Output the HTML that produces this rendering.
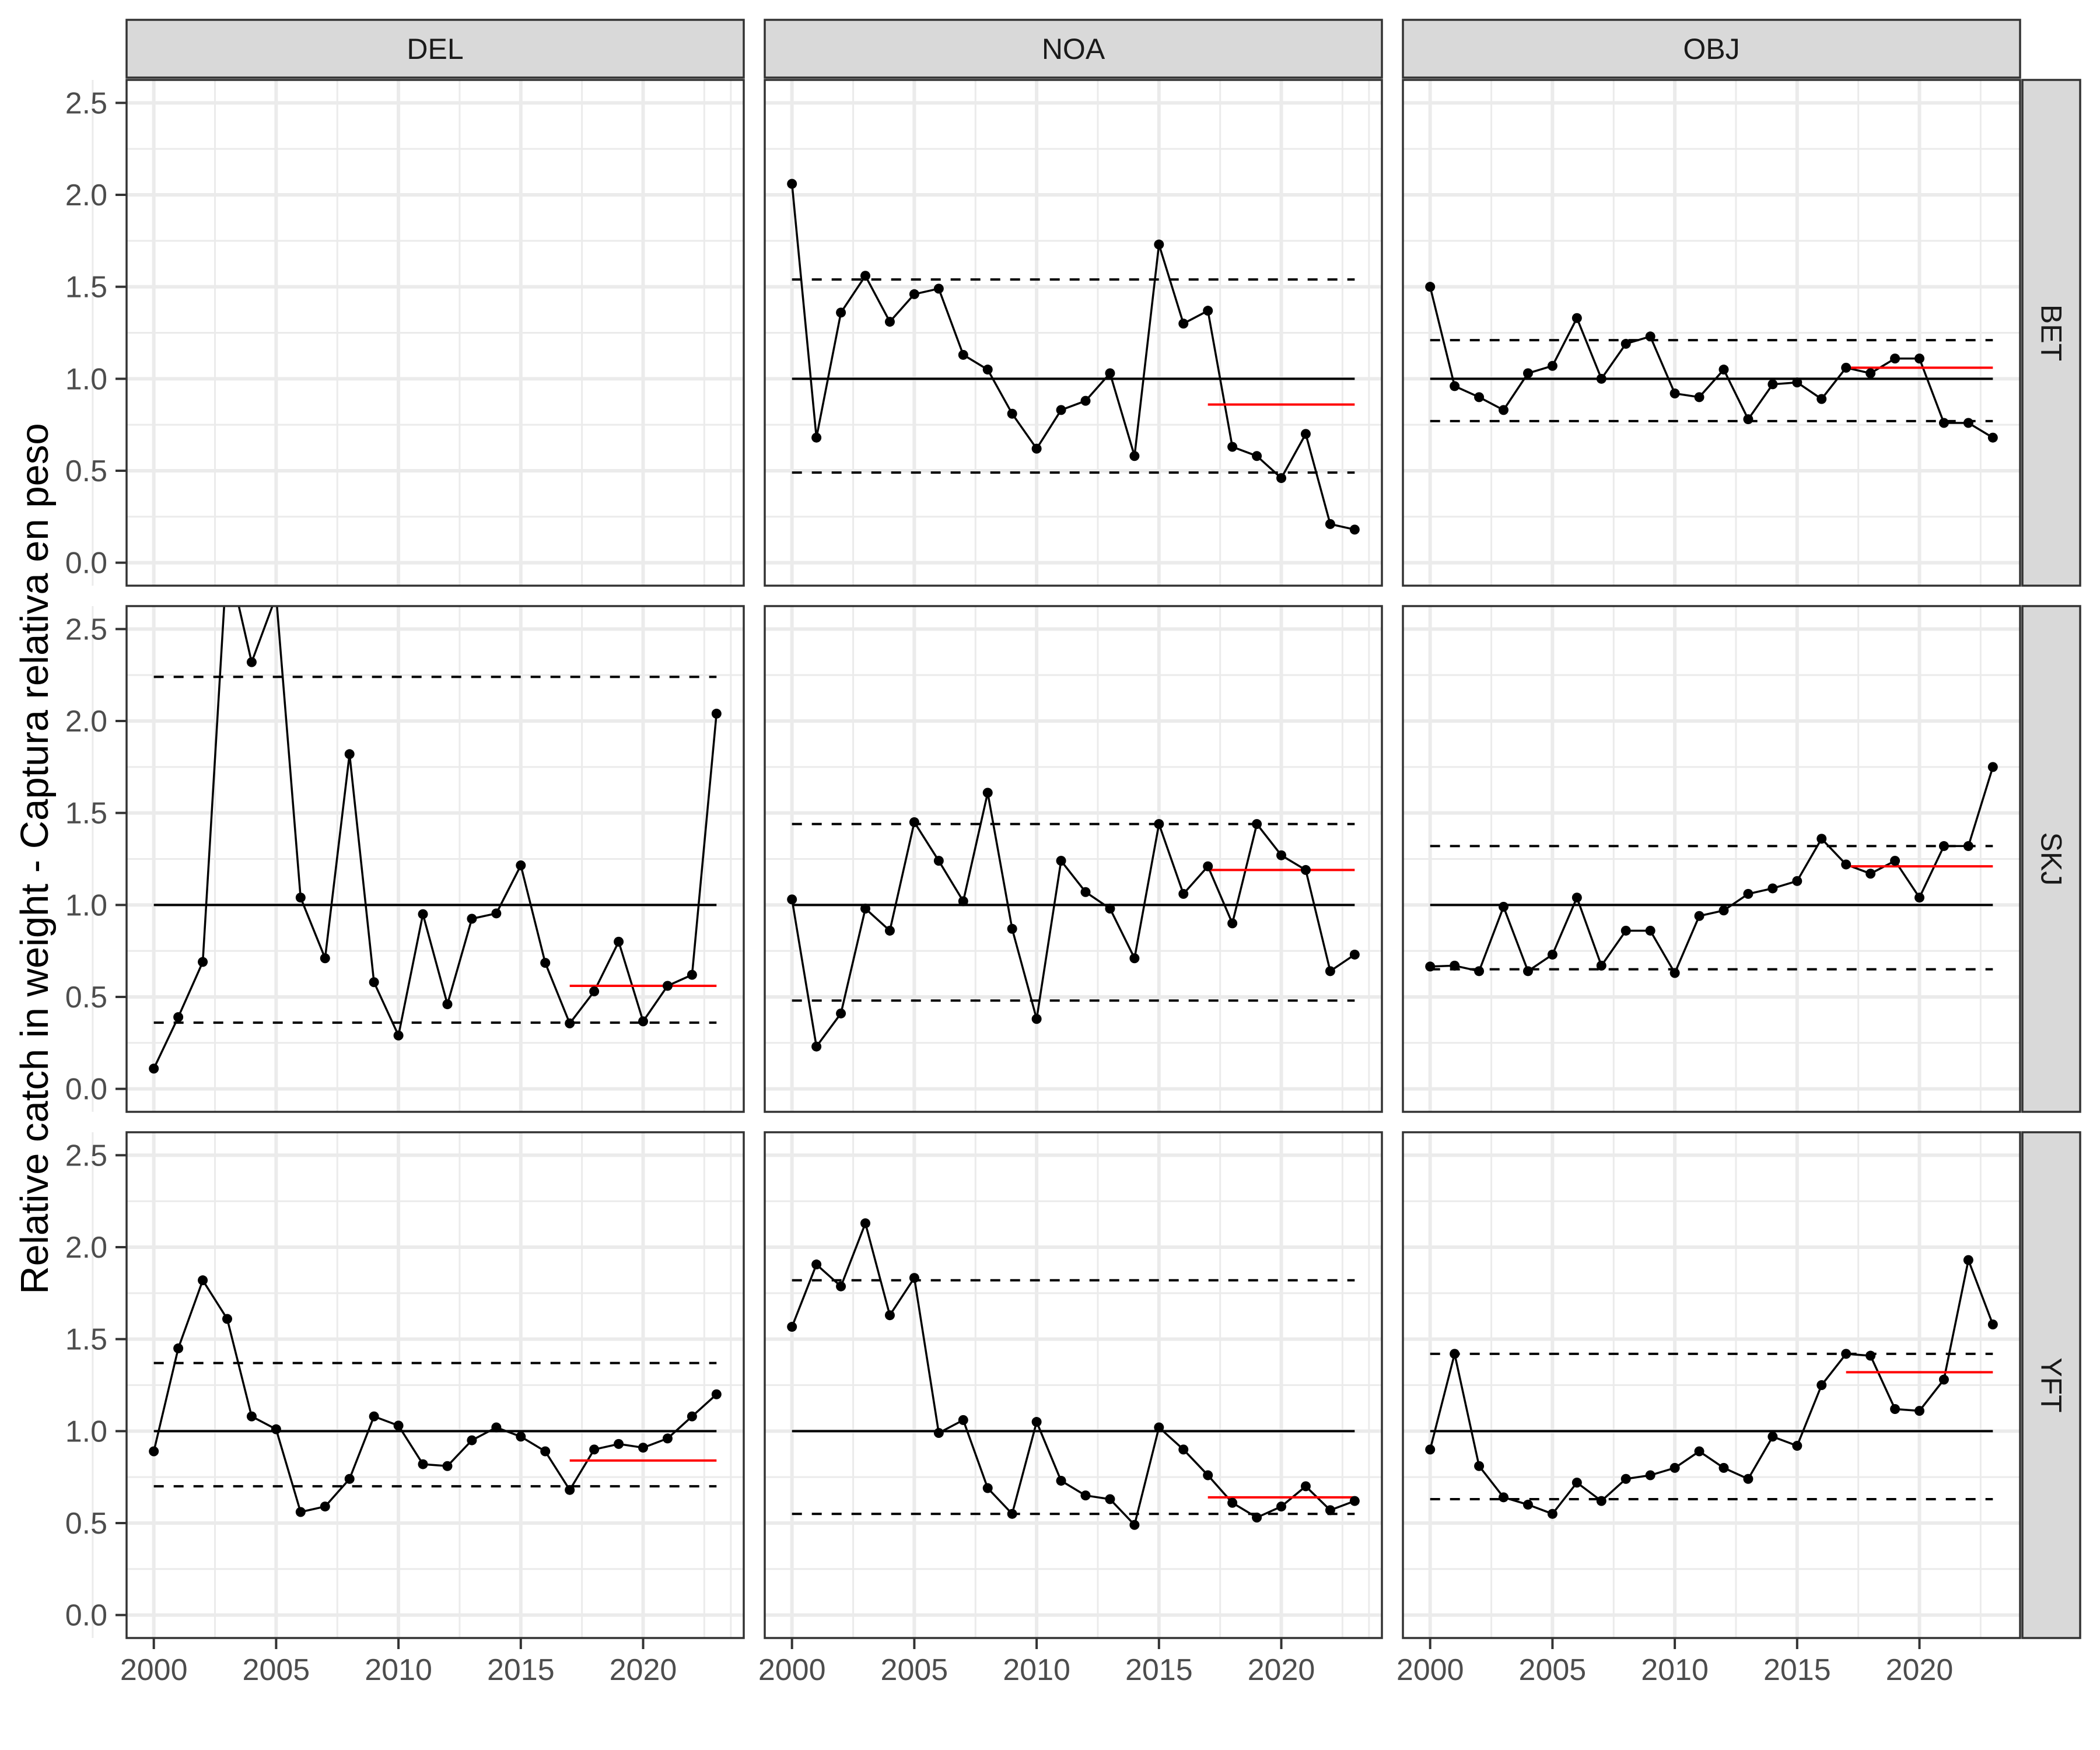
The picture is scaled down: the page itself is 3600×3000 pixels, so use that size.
<!DOCTYPE html>
<html><head><meta charset="utf-8">
<style>
html,body{margin:0;padding:0;background:#fff;}
svg{display:block;font-family:"Liberation Sans",Arial,sans-serif;}
</style></head>
<body>
<svg id="chart" width="3600" height="3000" viewBox="0 0 3600 3000" xmlns="http://www.w3.org/2000/svg">
<rect x="0" y="0" width="3600" height="3000" fill="#fff"/>
<text x="0" y="0" transform="translate(82,1472) rotate(-90)" text-anchor="middle" font-size="67" fill="#000">Relative catch in weight - Captura relativa en peso</text>
</svg>
<script>
const years = [2000,2001,2002,2003,2004,2005,2006,2007,2008,2009,2010,2011,2012,2013,2014,2015,2016,2017,2018,2019,2020,2021,2022,2023];
const gears = ["DEL","NOA","OBJ"];
const species = ["BET","SKJ","YFT"];
const yTicks = [0,0.5,1,1.5,2,2.5];
const yTickLabels = ["0.0","0.5","1.0","1.5","2.0","2.5"];
const xTicks = [2000,2005,2010,2015,2020];
const xTickLabels = ["2000","2005","2010","2015","2020"];
const redStartYear = 2017;

const valsNOA_BET = [2.06,0.68,1.36,1.56,1.31,1.46,1.49,1.13,1.05,0.81,0.62,0.83,0.88,1.03,0.58,1.73,1.30,1.37,0.63,0.58,0.46,0.70,0.21,0.18];
const valsOBJ_BET = [1.50,0.96,0.90,0.83,1.03,1.07,1.33,1.00,1.19,1.23,0.92,0.90,1.05,0.78,0.97,0.98,0.89,1.06,1.03,1.11,1.11,0.76,0.76,0.68];
const valsDEL_SKJ = [0.11,0.39,0.69,2.90,2.32,2.68,1.04,0.71,1.82,0.58,0.29,0.95,0.46,0.925,0.954,1.215,0.685,0.356,0.53,0.80,0.367,0.56,0.62,2.04];
const valsNOA_SKJ = [1.03,0.23,0.41,0.98,0.86,1.45,1.24,1.02,1.61,0.87,0.38,1.24,1.07,0.98,0.71,1.44,1.06,1.21,0.90,1.44,1.27,1.19,0.64,0.73];
const valsOBJ_SKJ = [0.665,0.67,0.64,0.99,0.64,0.73,1.04,0.67,0.86,0.86,0.63,0.94,0.97,1.06,1.09,1.13,1.36,1.22,1.17,1.24,1.04,1.32,1.32,1.75];
const valsDEL_YFT = [0.89,1.45,1.82,1.61,1.08,1.01,0.56,0.59,0.74,1.08,1.03,0.82,0.81,0.95,1.02,0.97,0.89,0.68,0.90,0.93,0.91,0.96,1.08,1.20];
const valsNOA_YFT = [1.567,1.906,1.787,2.13,1.63,1.833,0.99,1.06,0.69,0.55,1.05,0.73,0.65,0.63,0.49,1.02,0.90,0.76,0.61,0.53,0.59,0.70,0.57,0.62];
const valsOBJ_YFT = [0.90,1.42,0.81,0.64,0.60,0.55,0.72,0.62,0.74,0.76,0.80,0.89,0.80,0.74,0.97,0.92,1.25,1.42,1.41,1.12,1.11,1.28,1.93,1.58];

const upperNOA_BET = 1.54, lowerNOA_BET = 0.49, redNOA_BET = 0.86;
const upperOBJ_BET = 1.21, lowerOBJ_BET = 0.77, redOBJ_BET = 1.06;
const upperDEL_SKJ = 2.24, lowerDEL_SKJ = 0.36, redDEL_SKJ = 0.56;
const upperNOA_SKJ = 1.44, lowerNOA_SKJ = 0.48, redNOA_SKJ = 1.19;
const upperOBJ_SKJ = 1.32, lowerOBJ_SKJ = 0.65, redOBJ_SKJ = 1.21;
const upperDEL_YFT = 1.37, lowerDEL_YFT = 0.70, redDEL_YFT = 0.84;
const upperNOA_YFT = 1.82, lowerNOA_YFT = 0.55, redNOA_YFT = 0.64;
const upperOBJ_YFT = 1.42, lowerOBJ_YFT = 0.63, redOBJ_YFT = 1.32;

const panels = [
 {g:1,s:0,v:valsNOA_BET,u:upperNOA_BET,l:lowerNOA_BET,r:redNOA_BET},
 {g:2,s:0,v:valsOBJ_BET,u:upperOBJ_BET,l:lowerOBJ_BET,r:redOBJ_BET},
 {g:0,s:1,v:valsDEL_SKJ,u:upperDEL_SKJ,l:lowerDEL_SKJ,r:redDEL_SKJ},
 {g:1,s:1,v:valsNOA_SKJ,u:upperNOA_SKJ,l:lowerNOA_SKJ,r:redNOA_SKJ},
 {g:2,s:1,v:valsOBJ_SKJ,u:upperOBJ_SKJ,l:lowerOBJ_SKJ,r:redOBJ_SKJ},
 {g:0,s:2,v:valsDEL_YFT,u:upperDEL_YFT,l:lowerDEL_YFT,r:redDEL_YFT},
 {g:1,s:2,v:valsNOA_YFT,u:upperNOA_YFT,l:lowerNOA_YFT,r:redNOA_YFT},
 {g:2,s:2,v:valsOBJ_YFT,u:upperOBJ_YFT,l:lowerOBJ_YFT,r:redOBJ_YFT}
];

const NS = "http://www.w3.org/2000/svg";
const svg = document.getElementById("chart");
const colLeft = [217,1311,2405], PW = 1058;
const rowTop = [137,1039,1941], PH = 867;
const xMin = 2000-1.113, xMax = 2023+1.113, yMin = -0.125, yMax = 2.625;
function sx(c, yr){ return colLeft[c] + (yr - xMin)/(xMax - xMin)*PW; }
function sy(r, v){ return rowTop[r] + PH - (v - yMin)/(yMax - yMin)*PH; }
function el(tag, attrs, parent){
  const e = document.createElementNS(NS, tag);
  for (const k in attrs) e.setAttribute(k, attrs[k]);
  (parent || svg).appendChild(e);
  return e;
}

const defs = el("defs", {});
for (let c=0;c<3;c++) for (let r=0;r<3;r++){
  const cp = el("clipPath", {id:"clip"+c+r}, defs);
  el("rect", {x:colLeft[c], y:rowTop[r], width:PW, height:PH}, cp);
}

for (let r=0;r<3;r++){
  for (let c=0;c<3;c++){
    const g = el("g", {});
    
    
    el("rect", {x:colLeft[c], y:rowTop[r], width:PW, height:PH, fill:"#fff"}, g);
    for (let i=0;i<yTicks.length-1;i++){
      const yy = sy(r, (yTicks[i]+yTicks[i+1])/2);
      el("line", {x1:colLeft[c], x2:colLeft[c]+PW, y1:yy, y2:yy, stroke:"#EBEBEB", "stroke-width":3}, g);
    }
    for (let i=0;i<xTicks.length;i++){
      const xx = sx(c, xTicks[i]+2.5);
      el("line", {x1:xx, x2:xx, y1:rowTop[r], y2:rowTop[r]+PH, stroke:"#EBEBEB", "stroke-width":3}, g);
    }
    el("line", {x1:sx(c,1997.5), x2:sx(c,1997.5), y1:rowTop[r], y2:rowTop[r]+PH, stroke:"#EBEBEB", "stroke-width":3}, g);
    for (const t of yTicks){
      const yy = sy(r, t);
      el("line", {x1:colLeft[c], x2:colLeft[c]+PW, y1:yy, y2:yy, stroke:"#EBEBEB", "stroke-width":6}, g);
    }
    for (const t of xTicks){
      const xx = sx(c, t);
      el("line", {x1:xx, x2:xx, y1:rowTop[r], y2:rowTop[r]+PH, stroke:"#EBEBEB", "stroke-width":6}, g);
    }
  }
}

for (const p of panels){
  const c = p.g, r = p.s;
  const g = el("g", {"clip-path":"url(#clip"+c+r+")"});
  
  
  const x0 = sx(c, years[0]), x1 = sx(c, years[years.length-1]);
  const mean = el("line", {x1:x0, x2:x1, y1:sy(r,1), y2:sy(r,1), stroke:"#000", "stroke-width":4}, g);
  
  
  const up = el("line", {x1:x0, x2:x1, y1:sy(r,p.u), y2:sy(r,p.u), stroke:"#000", "stroke-width":4, "stroke-dasharray":"17 17"}, g);
  
  
  const lo = el("line", {x1:x0, x2:x1, y1:sy(r,p.l), y2:sy(r,p.l), stroke:"#000", "stroke-width":4, "stroke-dasharray":"17 17"}, g);
  
  
  const pts = years.map((y,i)=> sx(c,y).toFixed(1)+","+sy(r,p.v[i]).toFixed(1)).join(" ");
  const pl = el("polyline", {points:pts, fill:"none", stroke:"#000", "stroke-width":3.5, "stroke-linejoin":"round"}, g);
  
  
  const red = el("line", {x1:sx(c,redStartYear), x2:x1, y1:sy(r,p.r), y2:sy(r,p.r), stroke:"#FF0000", "stroke-width":4}, g);
  
  
  years.forEach((y,i)=>{
    const pt = el("circle", {cx:sx(c,y), cy:sy(r,p.v[i]), r:8.5, fill:"#000"}, g);
    
    
  });
}

for (let r=0;r<3;r++) for (let c=0;c<3;c++){
  el("rect", {x:colLeft[c], y:rowTop[r], width:PW, height:PH, fill:"none", stroke:"#333333", "stroke-width":3.5});
}

for (let c=0;c<3;c++){
  const g = el("g", {});
  
  
  el("rect", {x:colLeft[c], y:34, width:PW, height:99, fill:"#D9D9D9", stroke:"#333333", "stroke-width":3.5}, g);
  const t = el("text", {x:colLeft[c]+PW/2, y:101, "text-anchor":"middle", "font-size":50, fill:"#1A1A1A"}, g);
  t.textContent = gears[c];
}
for (let r=0;r<3;r++){
  const g = el("g", {});
  
  
  el("rect", {x:3467, y:rowTop[r], width:99, height:PH, fill:"#D9D9D9", stroke:"#333333", "stroke-width":3.5}, g);
  const cx = 3516.5, cy = rowTop[r]+PH/2;
  const t = el("text", {x:0, y:0, transform:"translate("+(cx-17)+","+cy+") rotate(90)", "text-anchor":"middle", "font-size":50, fill:"#1A1A1A"}, g);
  t.textContent = species[r];
}

for (let r=0;r<3;r++){
  const g = el("g", {});
  
  
  yTicks.forEach((t,i)=>{
    const yy = sy(r,t);
    el("line", {x1:198, x2:217, y1:yy, y2:yy, stroke:"#333333", "stroke-width":4}, g);
    const tx = el("text", {x:184, y:yy+18, "text-anchor":"end", "font-size":52, fill:"#4D4D4D"}, g);
    tx.textContent = yTickLabels[i];
  });
}
for (let c=0;c<3;c++){
  const g = el("g", {});
  
  
  const yb = rowTop[2]+PH;
  xTicks.forEach((t,i)=>{
    const xx = sx(c,t);
    el("line", {x1:xx, x2:xx, y1:yb, y2:yb+19, stroke:"#333333", "stroke-width":4}, g);
    const tx = el("text", {x:xx, y:yb+72, "text-anchor":"middle", "font-size":52, fill:"#4D4D4D"}, g);
    tx.textContent = xTickLabels[i];
  });
}
</script>
</body></html>
